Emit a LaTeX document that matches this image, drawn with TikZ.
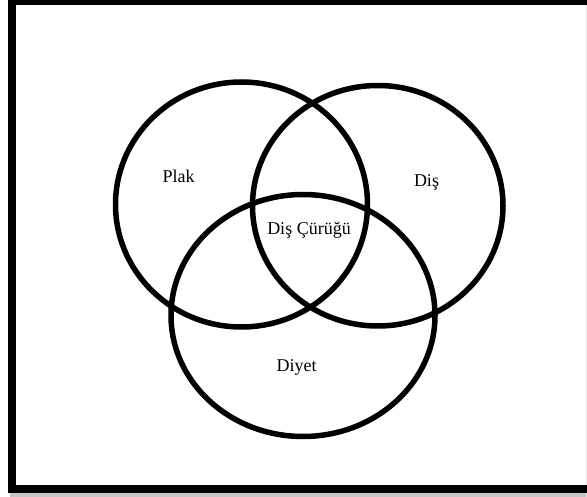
\documentclass[tikz,border=0pt]{standalone}
\usepackage{fontspec}
\setmainfont{Liberation Serif}
\begin{document}
\begin{tikzpicture}[x=1pt,y=-1pt,
  venn/.style={draw=black,line width=5.5pt},
  lbl/.style={anchor=base,inner sep=0pt,font=\fontsize{18}{20}\selectfont},
  frameline/.style={draw=black,line width=8pt}]
\useasboundingbox (0,0) rectangle (587,497);
% shadow
\fill[gray!45] (10,492) rectangle (587,497);
\fill[gray!20] (585.5,4) rectangle (587,497);
% frame (right side lies outside the picture)
\draw[frameline] (595,1) -- (12,1) -- (12,489) -- (595,489);
% circles
\draw[venn] (241.5,204.5) ellipse [x radius=126pt, y radius=122.5pt];
\draw[venn] (377.75,205.75) ellipse [x radius=125.25pt, y radius=120.25pt];
\draw[venn] (303,315.5) ellipse [x radius=132pt, y radius=121pt];
% labels
\node[lbl] (plak) at (178.5,183) {Plak};
\node[lbl] (dis) at (426.5,187) {Diş};
\node[lbl] (curuk) at (309,235) {Diş Çürüğü};
\node[lbl] (diyet) at (296.7,372) {Diyet};
\end{tikzpicture}
\end{document}
